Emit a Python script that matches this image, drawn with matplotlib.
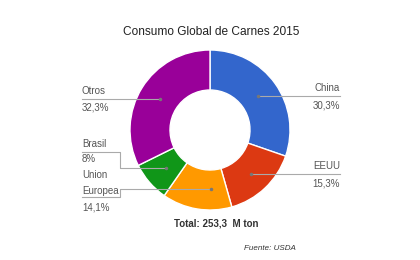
import matplotlib.pyplot as plt

categories = ['China', 'EEUU', 'Union\nEuropea', 'Brasil', 'Otros']
shares = [30.3, 15.3, 14.1, 8.0, 32.3]
share_labels = ['30,3%', '15,3%', '14,1%', '8%', '32,3%']
colors = ['#3366cc', '#dc3912', '#ff9900', '#109618', '#990099']

W, H = 420, 260
CX, CY, R = 210, 130, 80
TXT = '#555555'
LINE = '#aaaaaa'


def y(v):
    # pixel row (from top) to data y
    return H - v


def main():
    plt.rcParams['font.family'] = ['Liberation Sans', 'DejaVu Sans']
    fig = plt.figure(figsize=(4.2, 2.6), dpi=100)
    ax = fig.add_axes([0, 0, 1, 1])

    ax.pie(shares, colors=colors, startangle=90, counterclock=False,
           center=(CX, y(CY)), radius=R, frame=True,
           wedgeprops=dict(width=40, edgecolor='white', linewidth=1))
    ax.set_xlim(0, W)
    ax.set_ylim(0, H)
    ax.set_aspect('equal')
    ax.axis('off')

    ax.text(211, y(32), 'Consumo Global de Carnes 2015', ha='center', va='center',
            fontsize=8.6, color='#222222')

    fs = 7.0
    # China
    ax.plot([258, 340], [y(96), y(96)], color=LINE, lw=0.8)
    ax.text(340, y(88), categories[0], ha='right', va='center', fontsize=fs, color=TXT)
    ax.text(340, y(105), share_labels[0], ha='right', va='center', fontsize=fs, color=TXT)
    # EEUU
    ax.plot([251, 340], [y(174), y(174)], color=LINE, lw=0.8)
    ax.text(340, y(166), categories[1], ha='right', va='center', fontsize=fs, color=TXT)
    ax.text(340, y(184), share_labels[1], ha='right', va='center', fontsize=fs, color=TXT)
    # Otros
    ax.plot([82, 160], [y(99), y(99)], color=LINE, lw=0.8)
    ax.text(82, y(91), categories[4], ha='left', va='center', fontsize=fs, color=TXT)
    ax.text(82, y(108), share_labels[4], ha='left', va='center', fontsize=fs, color=TXT)
    # Brasil
    ax.plot([82, 120, 120, 166], [y(152), y(152), y(168), y(168)], color=LINE, lw=0.8)
    ax.text(82, y(144), categories[3], ha='left', va='center', fontsize=fs, color=TXT)
    ax.text(82, y(159), share_labels[3], ha='left', va='center', fontsize=fs, color=TXT)
    # Union Europea
    ax.plot([82, 120, 120, 211], [y(197), y(197), y(189), y(189)], color=LINE, lw=0.8)
    name1, name2 = categories[2].split('\n')
    ax.text(82, y(175), name1, ha='left', va='center', fontsize=fs, color=TXT)
    ax.text(82, y(191), name2, ha='left', va='center', fontsize=fs, color=TXT)
    ax.text(82, y(208), share_labels[2], ha='left', va='center', fontsize=fs, color=TXT)

    for px, py in [(258, 96), (251, 174), (160, 99), (166, 168), (211, 189)]:
        ax.plot(px, y(py), 'o', color='#777777', ms=1.5)

    ax.text(216, y(223), 'Total: 253,3  M ton', ha='center', va='center',
            fontsize=7.0, fontweight='bold', color='#333333')
    ax.text(270, y(249), 'Fuente: USDA', ha='center', va='center',
            fontsize=5.8, style='italic', color='#333333')

    fig.savefig('out.png', dpi=100, facecolor='white')


if __name__ == "__main__":
    main()
